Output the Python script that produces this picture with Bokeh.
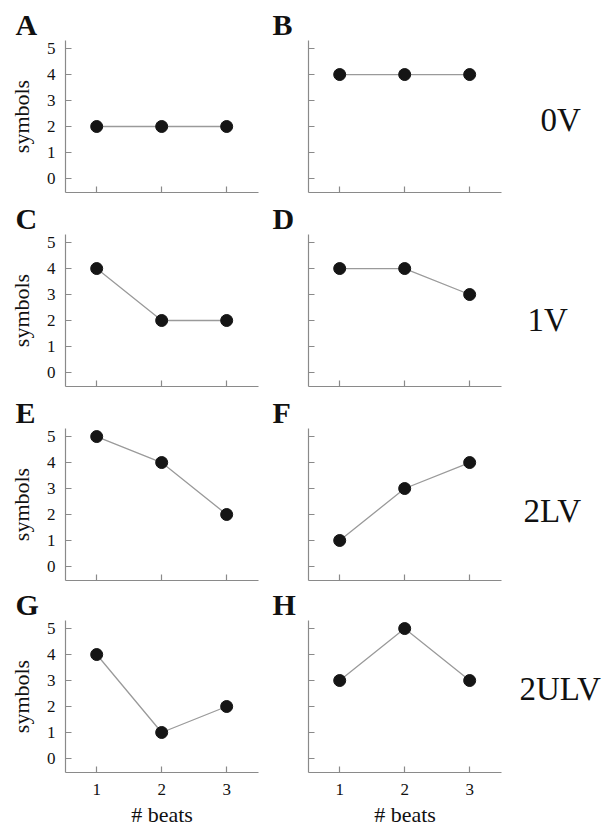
from bokeh.plotting import figure
from bokeh.layouts import column, row
from bokeh.models import FixedTicker, Range1d, Title
from bokeh.core.properties import value
from bokeh.embed import file_html
from bokeh.resources import INLINE

beats = [1, 2, 3]
tick_labels = ["0", "1", "2", "3", "4", "5"]
panel_A = [2, 2, 2]
panel_B = [4, 4, 4]
panel_C = [4, 2, 2]
panel_D = [4, 4, 3]
panel_E = [5, 4, 2]
panel_F = [1, 3, 4]
panel_G = [4, 1, 2]
panel_H = [3, 5, 3]
letters = ["A", "B", "C", "D", "E", "F", "G", "H"]
row_labels = ["0V", "1V", "2LV", "2ULV"]
x_label = "# beats"
y_label = "symbols"

series = [panel_A, panel_B, panel_C, panel_D, panel_E, panel_F, panel_G, panel_H]

FONT = "Liberation Serif"
AX = "#8a8a8a"
TXT = "#111111"

X0, X1 = 0.52, 3.49
Y0, Y1 = -0.54, 5.31

ROW_TOP = [40, 38, 38, 36]
ROW_BOT = [4, 4, 4, 60]
ROW_H = [t + 152 + b for t, b in zip(ROW_TOP, ROW_BOT)]
ROW_Y = [sum(ROW_H[:k]) for k in range(4)]      # page y of each row's top

# row-label anchors in page pixels (left edge, baseline)
label_left = [540, 527, 523, 519]
label_base = [103, 305, 495, 695]
COL3_X = 508
COL3_W = 614 - COL3_X


def style_axis(ax):
    ax.axis_line_color = AX
    ax.axis_line_width = 1.2
    ax.major_tick_line_color = AX
    ax.major_tick_line_width = 1.2
    ax.major_tick_in = 6
    ax.major_tick_out = 0
    ax.minor_tick_line_color = None
    ax.major_label_text_font = FONT
    ax.major_label_text_font_size = "17px"
    ax.major_label_text_color = TXT
    ax.axis_label_text_font = FONT
    ax.axis_label_text_font_style = "normal"
    ax.axis_label_text_font_size = "22px"
    ax.axis_label_text_color = TXT


def make_panel(i):
    r, c = divmod(i, 2)
    bottom = (r == 3)
    left = (c == 0)
    top_b, bot_b, h = ROW_TOP[r], ROW_BOT[r], ROW_H[r]
    if left:
        w, bl, br = 265, 65, 7
    else:
        w, bl, br = 243, 43, 7
    p = figure(width=w, height=h, output_backend="svg", toolbar_location=None,
               x_range=Range1d(X0, X1), y_range=Range1d(Y0, Y1),
               min_border_left=bl, min_border_right=br,
               min_border_top=top_b, min_border_bottom=bot_b)
    p.outline_line_color = None
    p.grid.visible = False
    p.background_fill_color = "white"
    p.border_fill_color = "white"

    style_axis(p.xaxis[0])
    style_axis(p.yaxis[0])

    p.xaxis.ticker = FixedTicker(ticks=beats)
    p.yaxis.ticker = FixedTicker(ticks=list(range(len(tick_labels))))
    p.xaxis.major_label_standoff = 11
    p.yaxis.major_label_standoff = 10

    if bottom:
        p.xaxis.axis_label = x_label
        p.xaxis.axis_label_standoff = 4
    else:
        p.xaxis.major_label_overrides = {b: "" for b in beats}
        p.xaxis.major_label_text_font_size = "0px"
        p.xaxis.major_label_standoff = 0
    if left:
        p.yaxis.axis_label = y_label
        p.yaxis.axis_label_standoff = 10
        p.yaxis.major_label_overrides = {k: t for k, t in enumerate(tick_labels)}
    else:
        p.yaxis.major_label_overrides = {k: "" for k in range(len(tick_labels))}
        p.yaxis.major_label_text_font_size = "0px"
        p.yaxis.major_label_standoff = 0

    p.line(beats, series[i], line_color="#9a9a9a", line_width=1.3)
    p.scatter(beats, series[i], size=12, fill_color="#151515", line_color="#151515")

    t = Title(text=letters[i], align="left", offset=-50 if left else -36,
              standoff=0, text_font=FONT, text_font_size="30px",
              text_font_style="bold", text_color="#111111")
    p.add_layout(t, "above")
    return p


def make_label_panel(r):
    h = ROW_H[r]
    top = ROW_Y[r]
    # ranges in page pixels so the label sits where it is in the picture
    p = figure(width=COL3_W, height=h, output_backend="svg", toolbar_location=None,
               x_range=Range1d(COL3_X, COL3_X + COL3_W),
               y_range=Range1d(top + h, top),
               x_axis_type=None, y_axis_type=None,
               min_border_left=0, min_border_right=0,
               min_border_top=0, min_border_bottom=0)
    p.outline_line_color = None
    p.grid.visible = False
    p.text(x=[label_left[r]], y=[label_base[r]], text=[row_labels[r]],
           text_font=value(FONT), text_font_size="33px",
           text_color="#111111", text_baseline="alphabetic", text_align="left")
    return p


panels = [make_panel(i) for i in range(8)]
rows = [row(panels[2 * k], panels[2 * k + 1], make_label_panel(k), spacing=0)
        for k in range(4)]
layout = column(rows, spacing=0)

open("out.html", "w").write(file_html(layout, INLINE))
